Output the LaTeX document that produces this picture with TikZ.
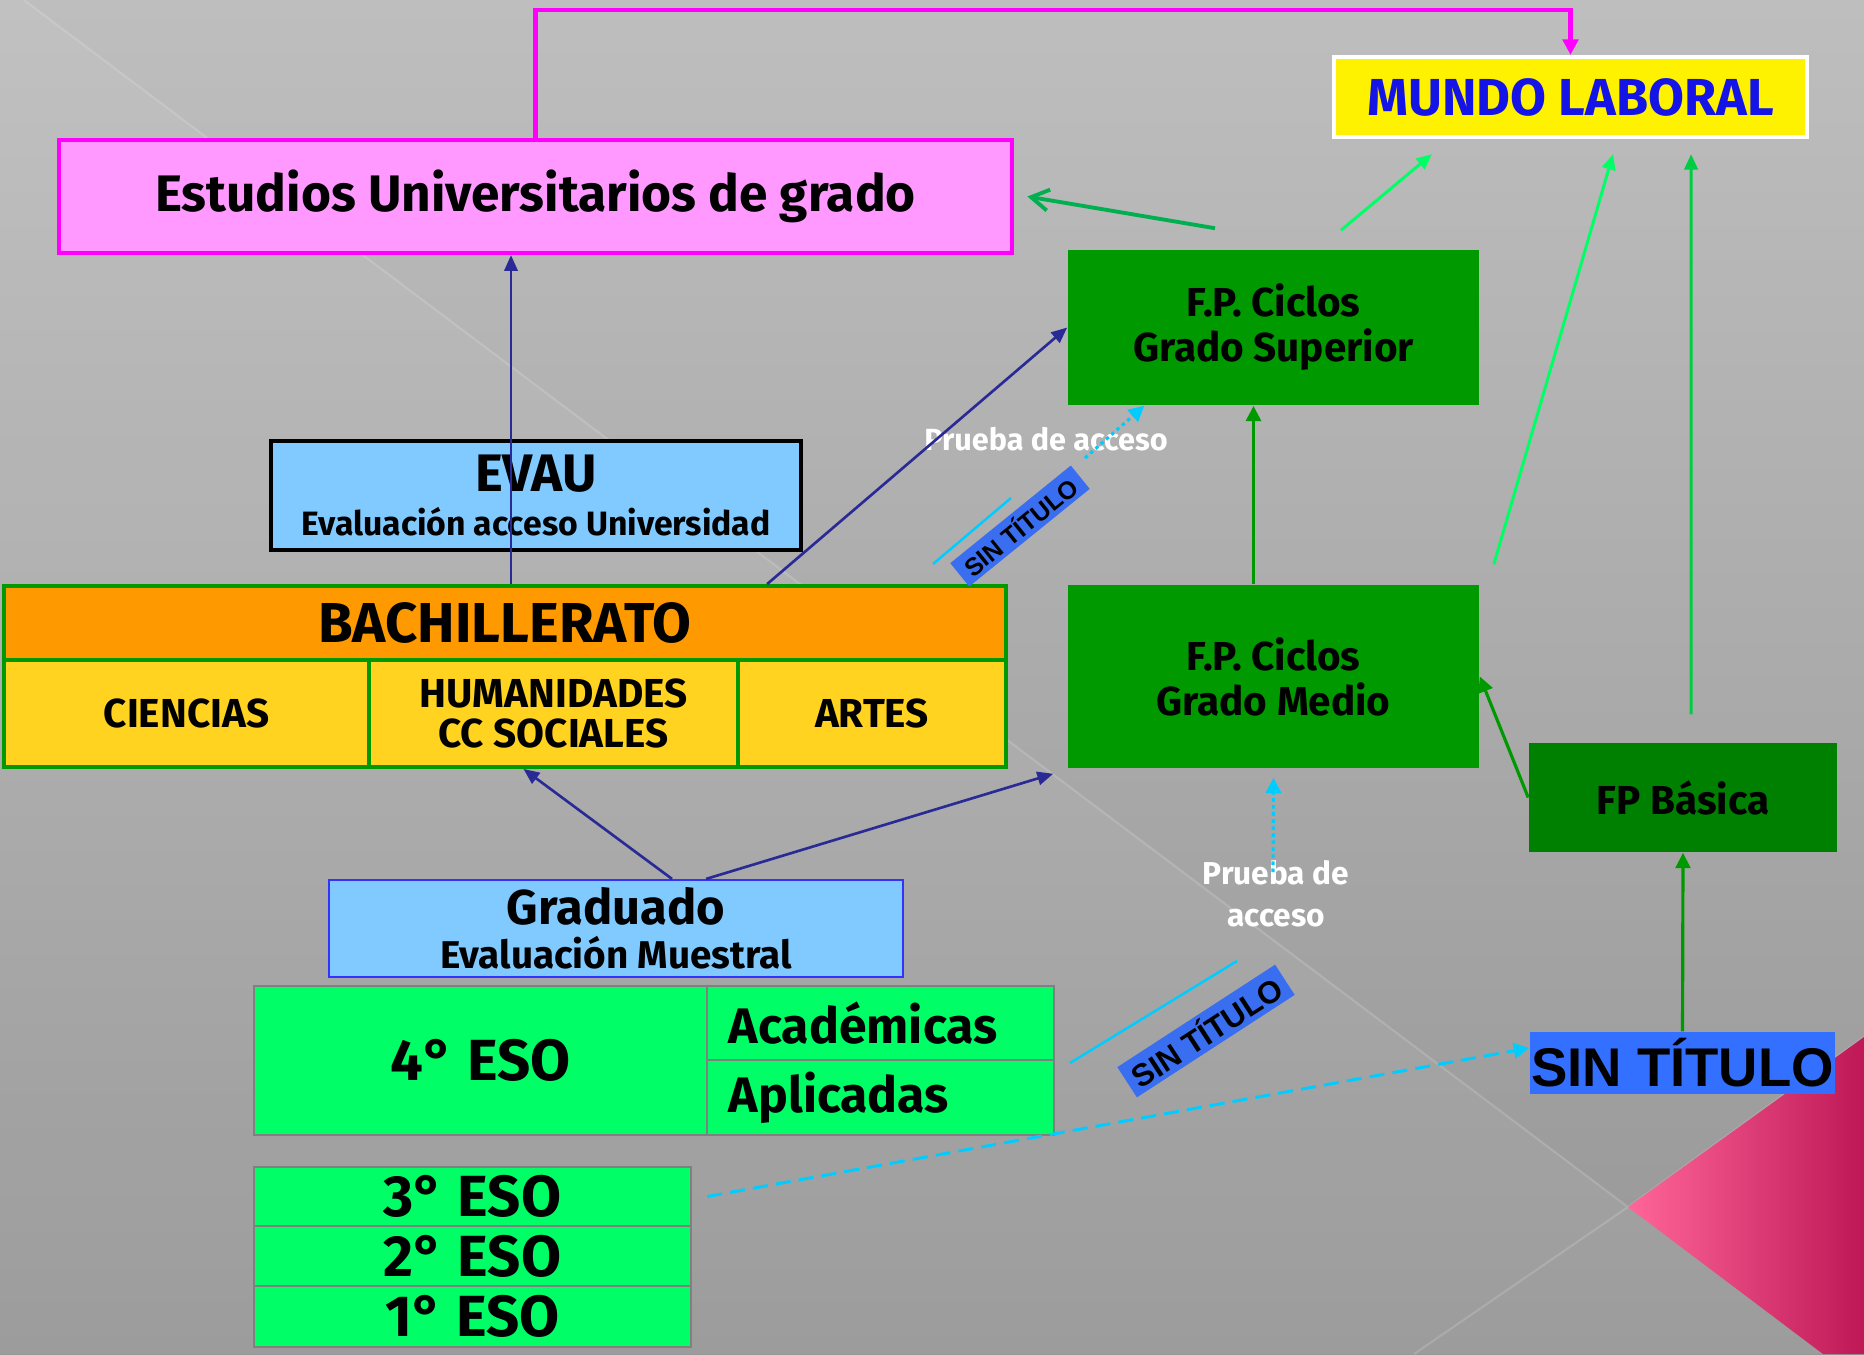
\documentclass[tikz,border=0pt]{standalone}
\usepackage{fontspec}
\setmainfont{Fira Sans}
\newfontfamily\arialfam{Liberation Sans}
\usetikzlibrary{positioning,arrows.meta}

\definecolor{bgtop}{HTML}{BEBEBE}
\definecolor{bgbot}{HTML}{979797}
\definecolor{pinkl}{HTML}{FF6699}
\definecolor{pinkr}{HTML}{BE1856}
\definecolor{unipink}{HTML}{FF99FF}
\definecolor{unimag}{HTML}{FF00FF}
\definecolor{mundoblue}{HTML}{1414E6}
\definecolor{fpgreen}{HTML}{009900}
\definecolor{fpdark}{HTML}{008000}
\definecolor{evalblue}{HTML}{80CAFF}
\definecolor{gradline}{HTML}{3333FF}
\definecolor{bachor}{HTML}{FF9900}
\definecolor{bachsub}{HTML}{FFD320}
\definecolor{esogreen}{HTML}{00FF66}
\definecolor{esoline}{HTML}{808080}
\definecolor{sinblue}{HTML}{3370FF}
\definecolor{sinsmall}{HTML}{3A6EF0}
\definecolor{navy}{HTML}{2A2A96}
\definecolor{cyanl}{HTML}{00CCFF}
\definecolor{grone}{HTML}{00B050}
\definecolor{grbright}{HTML}{00FF66}
\definecolor{grmid}{HTML}{00CC44}

\tikzset{
  blk/.style={rectangle,inner sep=0pt,align=center,text=black},
  univbox/.style={blk,fill=unipink,draw=unimag,line width=1.2pt,font=\fontsize{14.6}{17}\selectfont\bfseries},
  mundobox/.style={blk,fill=yellow,draw=white,line width=1.2pt,text=mundoblue,font=\fontsize{14.8}{17}\selectfont\bfseries},
  fpbox/.style={blk,fill=fpgreen,font=\fontsize{11.5}{12.8}\selectfont\bfseries},
  evalbox/.style={blk,fill=evalblue},
  bachbox/.style={blk,fill=bachor,draw=fpgreen,line width=1.1pt,font=\fontsize{16}{18}\selectfont\bfseries},
  subbox/.style={blk,fill=bachsub,draw=fpgreen,line width=1.1pt,minimum height=1.07cm,font=\fontsize{11.5}{11.6}\selectfont\bfseries},
  esobox/.style={blk,fill=esogreen,draw=esoline,line width=.6pt},
  sinbox/.style={blk,fill=sinblue,font=\arialfam\bfseries},
  prueba/.style={text=white,inner sep=0pt,align=center},
  % ---- connectors ----
  navyarr/.style={-{Triangle[length=4.5pt,width=3.8pt]},line width=.75pt,navy},
  grarr/.style={-{Triangle[length=4.4pt,width=4.2pt]},line width=1.1pt,fpgreen},
  ltarr/.style={-{Triangle[length=4.4pt,width=3.8pt]},line width=.85pt},
  cydot/.style={-{Triangle[length=4.4pt,width=4.4pt]},line width=.9pt,cyanl,dash pattern=on 1pt off 1pt},
  cydash/.style={-{Triangle[length=4.4pt,width=4.4pt]},line width=.85pt,cyanl,dash pattern=on 4.3pt off 2.3pt},
  cyln/.style={line width=.7pt,cyanl},
  magarr/.style={-{Triangle[length=4.4pt,width=4.4pt]},line width=1.4pt,unimag},
}

\begin{document}
\begin{tikzpicture}[x=0.01cm,y=-0.01cm]
  \useasboundingbox (0,0) rectangle (1864,1354);
  % background
  \shade[top color=bgtop,bottom color=bgbot] (0,0) rectangle (1864,1354);
  \fill[white,opacity=.05] (0,0) -- (24,0) -- (1628,1207) -- (1823,1354) -- (0,1354) -- cycle;
  \draw[white,opacity=.15,line width=.6pt] (24,0) -- (1628,1207) (1864,1037) -- (1628,1207) -- (1414,1354);
  \shade[left color=pinkl,right color=pinkr] (1628,1207) -- (1864,1037) -- (1864,1354) -- (1823,1354) -- cycle;

  \node[univbox,minimum width=9.53cm,minimum height=1.13cm] (univ) at (535.5,196.5) {Estudios Universitarios de grado};
  \node[mundobox,minimum width=4.73cm,minimum height=.80cm] (mundo) at (1570.5,97) {MUNDO LABORAL};
  \node[fpbox,minimum width=4.11cm,minimum height=1.55cm] (fpsup) at (1273.5,327.5) {F.P. Ciclos\\Grado Superior};
  \node[fpbox,minimum width=4.11cm,minimum height=1.83cm] (fpmed) at (1273.5,676.5) {F.P. Ciclos\\Grado Medio};
  \node[fpbox,fill=fpdark,minimum width=3.08cm,minimum height=1.09cm] (fpbas) at (1683,797.5) {FP Básica};

  \node[evalbox,draw=black,line width=1.1pt,minimum width=5.30cm,minimum height=1.09cm,
        font=\fontsize{9.6}{12.5}\selectfont\bfseries] (evau) at (536,495.5)
        {{\fontsize{15}{17}\selectfont EVAU}\\Evaluación acceso Universidad};

  \node[bachbox,minimum width=10.02cm,minimum height=.74cm] (bach) at (505,623) {BACHILLERATO};
  \foreach \nm/\cx/\w/\txt in {cien/186.5/3.65/CIENCIAS, hum/553.5/3.69/{HUMANIDADES\\CC SOCIALES}, artes/872/2.68/ARTES}
    \node[subbox,minimum width=\w cm] (\nm) at (\cx,713.5) {\txt};

  \node[evalbox,draw=gradline,line width=.6pt,minimum width=5.74cm,minimum height=.97cm,
        font=\fontsize{11}{12.5}\selectfont\bfseries] (grad) at (616,928.5)
        {{\fontsize{13.9}{16}\selectfont Graduado}\\Evaluación Muestral};

  \node[esobox,minimum width=4.53cm,minimum height=1.49cm,font=\fontsize{16.5}{18}\selectfont\bfseries] (eso4) at (480.5,1060.5) {4° ESO};
  \node[esobox,minimum width=3.47cm,minimum height=.74cm,text width=3.03cm,inner xsep=.22cm,align=left,
        font=\fontsize{14.2}{16}\selectfont\bfseries] (acad) at (880.5,1023) {Académicas};
  \node[esobox,minimum width=3.47cm,minimum height=.75cm,text width=3.03cm,inner xsep=.22cm,align=left,
        font=\fontsize{14.2}{16}\selectfont\bfseries] (aplic) at (880.5,1097.5) {Aplicadas};
  \foreach \n/\cy/\h in {3/1196.5/.59, 2/1256/.60, 1/1316.5/.61}
    \node[esobox,minimum width=4.37cm,minimum height=\h cm,font=\fontsize{16.5}{18}\selectfont\bfseries] (eso\n) at (472.5,\cy) {\n{}° ESO};

  \node[sinbox,minimum width=3.05cm,minimum height=.62cm,font=\arialfam\bfseries\fontsize{15.5}{17}\selectfont] (sint) at (1682.5,1063) {SIN TÍTULO};
  \node[sinbox,fill=sinsmall,rotate=39,minimum width=1.55cm,minimum height=.30cm,font=\arialfam\bfseries\fontsize{7.1}{8}\selectfont] (st1) at (1020,526) {SIN TÍTULO};
  \node[sinbox,fill=sinsmall,rotate=33,minimum width=1.88cm,minimum height=.36cm,font=\arialfam\bfseries\fontsize{8.9}{10}\selectfont] (st2) at (1206,1031) {SIN TÍTULO};

  \node[prueba,font=\fontsize{8.7}{10}\selectfont\bfseries] (pa1) at (1046,439) {Prueba de acceso};
  \node[prueba,font=\fontsize{9}{12}\selectfont\bfseries] (pa2) at (1276,894) {Prueba de\\acceso};
  \coordinate (pa1s) at (1085,458);
  \coordinate (pa2s) at (1273,872);
  \coordinate (topbar) at (1000,10);

  % connectors
  \draw[navyarr] ([xshift=.06cm]bach.north) -- ([xshift=.06cm]bach.north |- univ.south);
  \draw[navyarr] ([xshift=2.62cm]bach.north) -- (fpsup.west);
  \draw[navyarr] ([xshift=.56cm]grad.north) -- ([xshift=-.3cm]hum.south);
  \draw[navyarr] ([xshift=.9cm]grad.north) -- ([shift={(-.14cm,-.05cm)}]fpmed.south west);

  \draw[line width=1.1pt,grone,-{Straight Barb[length=5pt,width=6pt]}] ([shift={(-.585cm,.21cm)}]fpsup.north) -- ([xshift=.13cm]univ.east);
  \draw[ltarr,grbright] ([shift={(.675cm,.19cm)}]fpsup.north) -- ([shift={(-1.385cm,-.15cm)}]mundo.south);
  \draw[ltarr,grbright] ([shift={(.14cm,.2cm)}]fpmed.north east) -- ([shift={(.425cm,-.15cm)}]mundo.south);
  \draw[ltarr,grmid] ([shift={(.08cm,.28cm)}]fpbas.north) -- ([shift={(1.205cm,-.15cm)}]mundo.south);
  \draw[grarr] ([xshift=-.2cm]fpmed.north) -- ([xshift=-.2cm]fpsup.south);
  \draw[grarr,line width=.9pt] (fpbas.west) -- (fpmed.east);
  \draw[grarr,line width=.9pt] (sint.north) -- (fpbas.south);

  \draw[cydot] (pa1s) -- ([xshift=.77cm]fpsup.south west);
  \draw[cydot] (pa2s) -- ([yshift=-.09cm]fpmed.south);
  \draw[cydash] ([xshift=.15cm]eso3.east) -- ([yshift=.15cm]sint.west);
  \draw[cyln] (933,564) -- (1011,498);
  \draw[cyln] (1070,1063) -- (1237,961);

  \draw[magarr] (univ.north) -- (univ.north |- topbar) -| (mundo.north);
\end{tikzpicture}
\end{document}
